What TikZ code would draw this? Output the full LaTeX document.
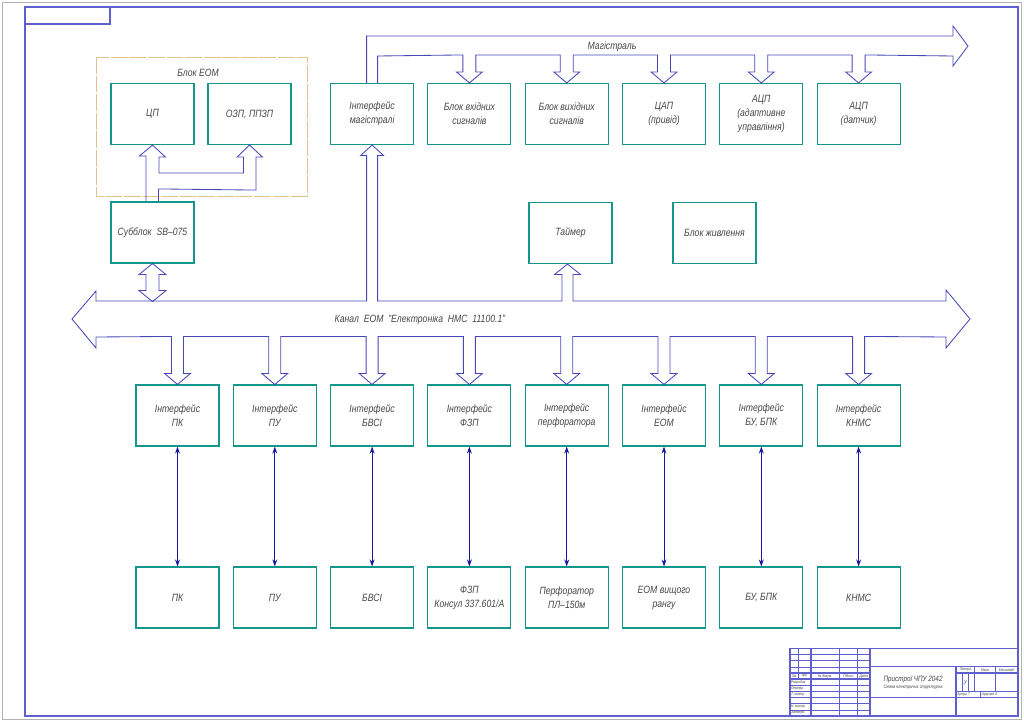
\documentclass[tikz,border=0pt]{standalone}
\usepackage{fontspec}
\setmainfont{Liberation Sans}[FakeStretch=0.82]
\usetikzlibrary{arrows.meta, calc, positioning}
\definecolor{boxteal}{RGB}{20,150,140}
\definecolor{busblue}{RGB}{70,70,185}
\definecolor{linknavy}{RGB}{25,25,160}
\definecolor{framevio}{RGB}{95,95,205}
\definecolor{eomtan}{RGB}{225,195,145}
\definecolor{txtgray}{RGB}{70,70,70}
\tikzset{
  blk/.style={rectangle, draw=boxteal, line width=0.8pt, minimum width=2.075cm, minimum height=1.525cm, align=center, inner sep=1pt, text=txtgray, font=\fontsize{7.5}{10}\selectfont\itshape},
  bus/.style={draw=busblue, line width=0.6pt, line join=miter},
  link/.style={{Stealth[length=5pt,width=3.5pt]}-{Stealth[length=5pt,width=3.5pt]}, draw=linknavy, line width=0.6pt},
  lbl/.style={text=txtgray, font=\fontsize{7.5}{10}\selectfont\itshape, inner sep=0pt},
  frm/.style={draw=framevio, line width=0.9pt},
  thn/.style={draw=framevio, line width=0.4pt},
  tiny/.style={text=txtgray, font=\fontsize{2.8}{3}\selectfont\itshape, inner sep=0pt}
}
\begin{document}
\begin{tikzpicture}[x=0.025cm, y=-0.025cm]
  \useasboundingbox (0,0) rectangle (1024,723);
  % sheet frame
  \draw[gray!60, line width=0.6pt] (2,2) rectangle (1021,719);
  \draw[frm] (25,7) rectangle (1018,716);
  \draw[frm] (25,7) rectangle (110,24);

  % Blok EOM
  \draw[eomtan, line width=0.6pt, dash pattern=on 12pt off 1.2pt] (96,57) rectangle (307,196);
  \node[lbl] (eoml) at (198,73) {Блок ЕОМ};
  \node[blk] (cpu) at (152.5,114) {ЦП};
  \node[blk] (ram) at (249.5,114) {ОЗП, ППЗП};
  \node[blk] (sub) at (152.5,232.5) {Субблок\ \ SB–075};

  % top row
  \node[blk] (ifm) at (372.1,114) {Інтерфейс\\магістралі};
  \node[blk] (inp) at (469.4,114) {Блок вхідних\\сигналів};
  \node[blk] (outp) at (566.7,114) {Блок вихідних\\сигналів};
  \node[blk] (dac) at (664,114) {ЦАП\\(привід)};
  \node[blk] (adca) at (761.3,114) {АЦП\\(адаптивне\\управління)};
  \node[blk] (adcd) at (858.6,114) {АЦП\\(датчик)};

  \node[blk] (tmr) at (570.5,233) {Таймер};
  \node[blk] (pwr) at (714.5,233) {Блок живлення};

  % interfaces and devices
  \foreach \i/\t in {1/{Інтерфейс\\ПК}, 2/{Інтерфейс\\ПУ}, 3/{Інтерфейс\\БВСІ}, 4/{Інтерфейс\\ФЗП},
                     5/{Інтерфейс\\перфоратора}, 6/{Інтерфейс\\ЕОМ}, 7/{Інтерфейс\\БУ, БПК}, 8/{Інтерфейс\\КНМС}}
    \node[blk] (if\i) at ({177.5+97.3*(\i-1)},415.5) {\t};
  \foreach \i/\t in {1/ПК, 2/ПУ, 3/БВСІ, 4/{ФЗП\\Консул 337.601/А}, 5/{Перфоратор\\ПЛ–150м},
                     6/{ЕОМ вищого\\рангу}, 7/{БУ, БПК}, 8/КНМС}
    \node[blk] (dv\i) at ({177.5+97.3*(\i-1)},597.5) {\t};
  \foreach \i in {1,...,8}
    \draw[link] (if\i.south) -- (dv\i.north);

  % inner EOM bus
  \draw[bus] ($(sub.north)+(-6.5,0)$) -- ++(0,-45.5) -- ++(-6.5,0) -- (cpu.south) -- ++(13,12) -- ++(-6.5,0)
    -- ++(0,16) -- ($(ram.south)+(-6,28)$) -- ++(0,-16) -- ++(-6.5,0) -- (ram.south) -- ++(13,12) -- ++(-6.5,0)
    -- ++(0,33) -- ($(sub.north)+(6,-12.5)$) -- ++(0,12.5);
  \draw[bus] (sub.south) -- ++(13.5,11) -- ++(-7,0) -- ++(0,16) -- ++(7,0) -- ++(-13.5,11)
    -- ++(-13.5,-11) -- ++(7,0) -- ++(0,-16) -- ++(-7,0) -- cycle;

  % Kanal EOM
  \draw[bus] (72,319) -- (96,291) -- (96,301)
    -- (366.6,301) -- (366.6,155.5) -- (360.6,155.5) -- (ifm.south) -- (383.6,155.5) -- (377.6,155.5) -- (377.6,301)
    -- (562,301) -- (562,274.5) -- (554.5,274.5) -- ($(tmr.south)+(-3,0)$) -- (580.5,274.5) -- (573,274.5) -- (573,301)
    -- (946,301) -- (946,290) -- (970,319) -- (946,348) -- (946,337)
    \foreach \i in {8,7,...,1} { -- ($(if\i.north)+(6,-48)$) -- ++(0,37) -- ++(7,0) -- (if\i.north) -- ++(-13,-11) -- ++(7,0) -- ++(0,-37) }
    -- (96,337) -- (96,348) -- cycle;
  \node[lbl] (kanl) at (420,320) {Канал\ \ ЕОМ\ \ "Електроніка\ \ НМС\ \ 11100.1"};

  % Magistral
  \draw[bus] ($(ifm.north)+(-5.5,0)$) -- (366.6,36) -- (953,36) -- (953,26) -- (968,46) -- (953,66) -- (953,56)
    \foreach \n in {adcd,adca,dac,outp,inp} { -- ($(\n.north)+(6.5,-28)$) -- ++(0,17) -- ++(6.5,0) -- (\n.north) -- ++(-13,-11) -- ++(6.5,0) -- ++(0,-17) }
    -- (377.6,56) -- ($(ifm.north)+(5.5,0)$);
  \node[lbl] (magl) at (612,47) {Магістраль};

  % title block
  \begin{scope}[shift={(790,648.35)}, x=0.03075cm, y=-0.03075cm]
    \draw[frm] (0,0) rectangle (185,55);
    \draw[frm] (7,0) -- (7,25);
    \foreach \xx in {17,40,55,65} \draw[frm] (\xx,0) -- (\xx,55);
    \foreach \yy in {5,10,15,30,35,40,45,50} \draw[thn] (0,\yy) -- (65,\yy);
    \foreach \yy in {20,25} \draw[frm] (0,\yy) -- (65,\yy);
    \draw[frm] (65,15) -- (185,15);
    \draw[frm] (65,40) -- (185,40);
    \draw[frm] (135,15) -- (135,55);
    \draw[frm] (135,20) -- (185,20);
    \draw[frm] (135,35) -- (185,35);
    \draw[frm] (150,15) -- (150,35);
    \draw[frm] (167,15) -- (167,35);
    \draw[thn] (140,20) -- (140,35);
    \draw[thn] (145,20) -- (145,35);
    \draw[frm] (155,35) -- (155,40);
    \node[tiny] at (3.5,22.5) {Зм.};
    \node[tiny] at (12,22.5) {Арк.};
    \node[tiny] at (28.5,22.5) {№ докум.};
    \node[tiny] at (47.5,22.5) {Підпис};
    \node[tiny] at (60,22.5) {Дата};
    \node[tiny, anchor=west] at (0.6,27.5) {Розробив};
    \node[tiny, anchor=west] at (0.6,32.5) {Перевір.};
    \node[tiny, anchor=west] at (0.6,37.5) {Т. контр.};
    \node[tiny, anchor=west] at (0.6,47.5) {Н. контр.};
    \node[tiny, anchor=west] at (0.6,52.5) {Затверд.};
    \node[text=txtgray, font=\fontsize{5.5}{6}\selectfont\itshape, inner sep=0pt] at (100,25.5) {Пристрої ЧПУ 2042};
    \node[text=txtgray, font=\fontsize{3.4}{4}\selectfont\itshape, inner sep=0pt] at (100,31.3) {Схема електрична структурна};
    \node[tiny] at (142.5,17.5) {Літера};
    \node[tiny] at (158.5,17.5) {Маса};
    \node[tiny] at (176,17.5) {Масштаб};
    \node[text=txtgray, font=\fontsize{4}{4}\selectfont\itshape, inner sep=0pt] at (142.5,27.5) {У};
    \node[tiny, anchor=west] at (135.8,37.5) {Аркуш 7};
    \node[tiny, anchor=west] at (155.8,37.5) {Аркушів 4};
  \end{scope}
\end{tikzpicture}
\end{document}
